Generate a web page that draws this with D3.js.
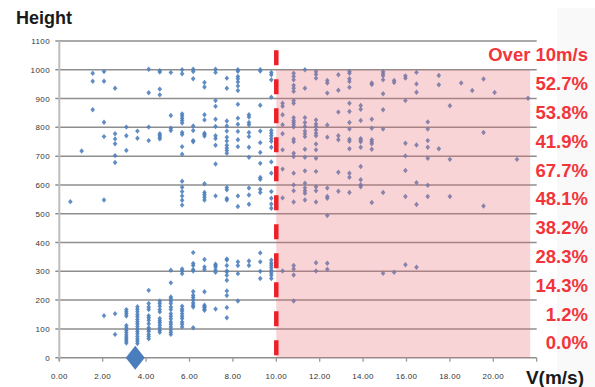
<!DOCTYPE html>
<html>
<head>
<meta charset="utf-8">
<script src="https://cdn.jsdelivr.net/npm/d3@7/dist/d3.min.js"></script>
<style>
  html, body { margin: 0; padding: 0; background: #ffffff; }
  svg { display: block; }
  text { font-family: "Liberation Sans", Arial, sans-serif; }
</style>
</head>
<body>
<svg id="chart" width="595" height="387"></svg>
<script>
// Wind speed columns (m/s) and the heights (m) observed at each speed
const speedCols = [0.51, 1.03, 1.54, 2.06, 2.57, 3.09, 3.60, 4.12, 4.63, 5.14, 5.66, 6.17, 6.69, 7.20,
  7.72, 8.23, 8.74, 9.26, 9.77, 10.29, 10.80, 11.32, 11.83, 12.35, 12.86, 13.37, 13.89, 14.40,
  14.92, 15.43, 15.95, 16.46, 16.98, 17.49, 18.00, 18.52, 19.03, 19.55, 20.06, 21.09, 21.60];

const heightCols = [
  [542],
  [718],
  [988, 960, 861],
  [994, 960, 818, 768, 548, 146],
  [936, 778, 760, 743, 702, 678, 153, 81],
  [801, 771, 720, 167, 160, 153, 145, 112, 103, 96, 88, 80, 72, 65, 58, 51],
  [787, 762, 177, 168, 160, 150, 142, 133, 125, 117, 108, 99, 91, 83, 74, 65, 57, 49],
  [1002, 920, 801, 754, 234, 188, 176, 167, 146, 139, 130, 118, 104, 97, 91, 81, 74, 66],
  [997, 992, 933, 913, 778, 772, 766, 760, 197, 188, 179, 167, 159, 136, 128, 121, 113, 104, 95, 88],
  [991, 841, 797, 789, 304, 260, 211, 204, 197, 188, 176, 167, 153, 144, 135, 124, 116, 107, 97, 88, 81],
  [1000, 986, 847, 840, 832, 824, 815, 782, 775, 733, 707, 613, 592, 577, 562, 547, 530, 308, 301, 292,
    179, 169, 162, 153, 144, 136, 124, 116, 107],
  [1002, 994, 969, 805, 789, 754, 750, 365, 327, 320, 306, 301, 230, 217, 209, 200, 190, 182, 176, 104],
  [956, 940, 844, 826, 780, 775, 770, 604, 574, 566, 557, 548, 341, 315, 306, 229, 182, 177, 174, 168, 165],
  [1002, 991, 893, 873, 828, 803, 771, 761, 738, 673, 562, 325, 320, 315, 305, 297, 169],
  [971, 936, 822, 805, 787, 766, 753, 738, 728, 720, 710, 591, 583, 553, 548, 343, 339, 320, 301, 298,
    286, 269, 232, 216, 174, 139],
  [1000, 995, 977, 969, 958, 944, 928, 880, 832, 811, 786, 757, 733, 562, 525, 333, 320, 292, 197],
  [844, 836, 817, 809, 782, 768, 731, 696, 589, 565, 533, 336, 320],
  [1000, 996, 877, 787, 747, 713, 675, 626, 620, 585, 574, 364, 333, 300, 275],
  [991, 983, 965, 905, 789, 780, 771, 761, 752, 731, 680, 641, 577, 554, 534, 519, 339, 329, 321, 313,
    304, 294, 286, 275],
  [884, 873, 844, 809, 778, 722, 655, 555, 301],
  [988, 977, 965, 946, 936, 925, 893, 884, 834, 824, 817, 809, 801, 759, 750, 710, 699, 641, 600, 580,
    541, 320, 308, 287, 197],
  [1000, 936, 834, 817, 803, 787, 778, 768, 724, 696, 649, 606, 590, 580, 571, 548],
  [993, 984, 971, 826, 812, 803, 791, 780, 771, 742, 722, 693, 647, 594, 580, 541, 330, 301],
  [963, 954, 919, 808, 766, 589, 560, 554, 494, 328, 307],
  [983, 929, 853, 771, 757, 644, 578],
  [994, 988, 969, 959, 939, 884, 855, 817, 794, 759, 752, 726, 641, 627, 574],
  [876, 863, 824, 761, 756, 750, 731, 664, 618, 601, 594],
  [954, 949, 828, 797, 757, 750, 743, 724, 539],
  [993, 986, 979, 965, 917, 861, 794, 574, 293],
  [963, 956, 297],
  [979, 971, 893, 745, 701, 650, 560, 323],
  [991, 951, 922, 739, 608, 532, 314],
  [819, 794, 754, 731, 693, 599, 560],
  [980, 948, 726],
  [875, 689, 560],
  [954],
  [928],
  [968, 782, 527],
  [921],
  [689],
  [901]
];

// Summary marker (mean speed at ground level)
const summaryPoint = [3.5, 0];

// Share of observations above 10 m/s in each 100 m height band
const bandLows = [900, 800, 700, 600, 500, 400, 300, 200, 100, 0];
const overShares = ["52.7%", "53.8%", "41.9%", "67.7%", "48.1%", "38.2%", "28.3%", "14.3%", "1.2%", "0.0%"];
const overTitle = "Over 10m/s";
const threshold = 10;
const shadeSpan = [10, 21.7];
const shadeTop = 1000;
const dashTop = 1068;

// Axis ticks
const yTicks = d3.range(0, 1101, 100);
const xTicks = d3.range(0, 22.01, 2);
const xTickLabels = ["0.00", "2.00", "4.00", "6.00", "8.00", "10.00", "12.00", "14.00", "16.00", "18.00", "20.00"];

const svg = d3.select("#chart");

const x = d3.scaleLinear().domain([0, 22]).range([59.3, 536.7]);
const y = d3.scaleLinear().domain([0, 1100]).range([357.7, 41]);

// faint panel at the far right
svg.append("rect")
  .attr("x", 557).attr("y", 8).attr("width", 38).attr("height", 379)
  .attr("fill", "#f9f9f9");

// horizontal gridlines
svg.append("g").selectAll("line")
  .data(yTicks)
  .join("line")
  .attr("x1", x(0) - 4).attr("x2", x(22))
  .attr("y1", d => y(d)).attr("y2", d => y(d))
  .attr("stroke", "#8e8e8e")
  .attr("stroke-width", 1.5);

// vertical axis line
svg.append("line")
  .attr("x1", x(0)).attr("x2", x(0))
  .attr("y1", y(1100)).attr("y2", y(0) + 3)
  .attr("stroke", "#bdbdbd").attr("stroke-width", 2);

// x tick marks
svg.append("g").selectAll("line")
  .data(xTicks)
  .join("line")
  .attr("x1", d => x(d)).attr("x2", d => x(d))
  .attr("y1", y(0)).attr("y2", y(0) + 4)
  .attr("stroke", "#9a9a9a").attr("stroke-width", 1.3);

// y tick labels
svg.append("g").selectAll("text")
  .data(yTicks)
  .join("text")
  .attr("x", 50).attr("y", d => y(d) + 3)
  .attr("text-anchor", "end")
  .attr("font-size", 8).attr("letter-spacing", 0.4)
  .attr("fill", "#333")
  .text(d => d);

// x tick labels
svg.append("g").selectAll("text")
  .data(xTickLabels)
  .join("text")
  .attr("x", (d, i) => x(xTicks[i]))
  .attr("y", 379)
  .attr("text-anchor", "middle")
  .attr("font-size", 8).attr("letter-spacing", 0.3)
  .attr("fill", "#333")
  .text(d => d);

// observation points
const points = [];
speedCols.forEach((v, i) => heightCols[i].forEach(h => points.push([v, h])));

const smallDiamond = "M0,-2.7L2.3,0L0,2.7L-2.3,0Z";
svg.append("g").selectAll("path")
  .data(points)
  .join("path")
  .attr("d", smallDiamond)
  .attr("transform", d => `translate(${x(d[0])},${y(d[1])})`)
  .attr("fill", "#4f81bd")
  .attr("opacity", 0.9);

// summary marker
svg.append("path")
  .attr("d", "M0,-12L9.5,0L0,12L-9.5,0Z")
  .attr("transform", `translate(${x(summaryPoint[0])},${y(summaryPoint[1])})`)
  .attr("fill", "#4a7dbc");

// shaded zone above the speed threshold
svg.append("rect")
  .attr("x", x(shadeSpan[0])).attr("y", y(shadeTop))
  .attr("width", x(shadeSpan[1]) - x(shadeSpan[0]))
  .attr("height", y(0) - y(shadeTop))
  .attr("fill", "rgb(236,108,114)")
  .attr("opacity", 0.29);

// threshold line
svg.append("line")
  .attr("x1", x(threshold)).attr("x2", x(threshold))
  .attr("y1", y(dashTop)).attr("y2", y(0))
  .attr("stroke", "#ee1f26").attr("stroke-width", 4.5)
  .attr("stroke-dasharray", "15,14");

// titles
svg.append("text")
  .attr("x", 16).attr("y", 24)
  .attr("font-size", 18).attr("font-weight", "bold")
  .attr("fill", "#1a1a1a")
  .text("Height");

svg.append("text")
  .attr("x", 584).attr("y", 384)
  .attr("text-anchor", "end")
  .attr("font-size", 19).attr("font-weight", "bold")
  .attr("fill", "#1a1a1a")
  .text("V(m/s)");

svg.append("text")
  .attr("x", 588).attr("y", 61)
  .attr("text-anchor", "end")
  .attr("font-size", 18.5).attr("font-weight", "bold")
  .attr("fill", "#f2353b")
  .text(overTitle);

svg.append("g").selectAll("text")
  .data(overShares)
  .join("text")
  .attr("x", 588)
  .attr("y", (d, i) => y(bandLows[i] + 50) + 6)
  .attr("text-anchor", "end")
  .attr("font-size", 18.5).attr("font-weight", "bold")
  .attr("fill", "#f2353b")
  .text(d => d);
</script>
</body>
</html>
